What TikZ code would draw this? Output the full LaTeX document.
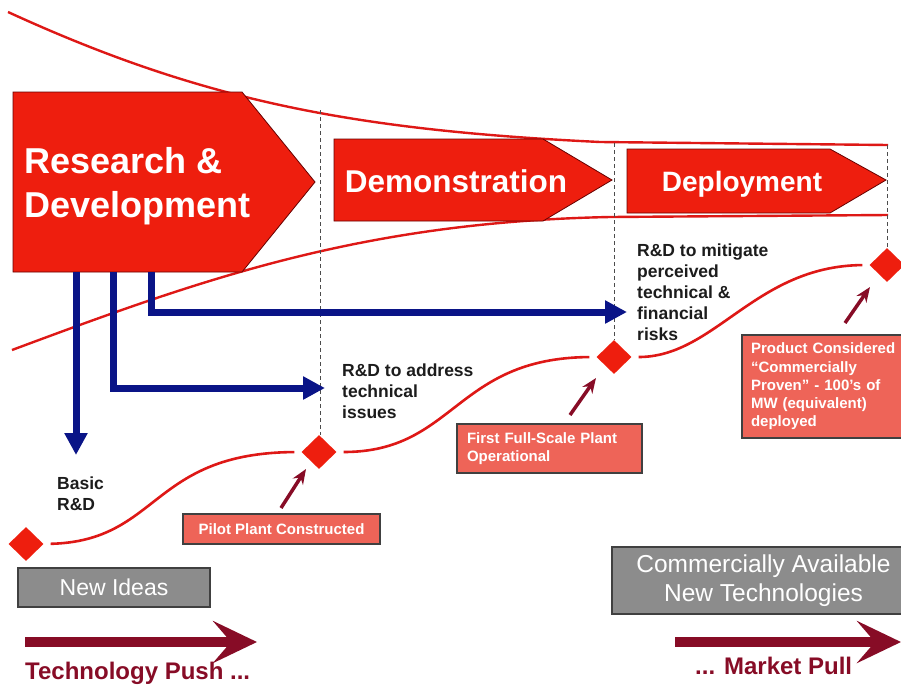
\documentclass[tikz,border=0pt]{standalone}
\usepackage{fontspec}
\setmainfont{Liberation Sans}
\usetikzlibrary{arrows.meta,shapes.geometric}
\definecolor{rdred}{RGB}{238,30,14}
\definecolor{curvered}{RGB}{222,24,22}
\definecolor{navy}{RGB}{10,20,135}
\definecolor{burg}{RGB}{135,12,38}
\definecolor{pinkbox}{RGB}{238,100,88}
\definecolor{graybox}{RGB}{140,140,140}
\definecolor{txtdark}{RGB}{28,28,28}
\begin{document}
\begin{tikzpicture}[x=1pt,y=-1pt,
  stage/.style={fill=rdred,draw=black!60!red,line width=0.8pt},
  stagetext/.style={text=white,inner sep=0pt},
  funnel/.style={draw=curvered,line width=2.4pt},
  sline/.style={draw=curvered,line width=2.6pt,shorten <=7pt,shorten >=7pt},
  mile/.style={diamond,fill=rdred,minimum width=35pt,minimum height=34pt,inner sep=0pt},
  guide/.style={draw=black!70,line width=0.9pt,dash pattern=on 4pt off 3pt},
  rdarrow/.style={draw=navy,line width=7pt,-{Triangle[length=22pt,width=22pt]}},
  ptr/.style={draw=burg,line width=3.5pt,-{Stealth[length=15pt,width=12pt]}},
  note/.style={text=txtdark,font=\bfseries\fontsize{17.5}{21}\selectfont,align=left,inner sep=0pt,anchor=north west},
  pinklabel/.style={fill=pinkbox,draw=black!75,line width=1.2pt,text=white,font=\bfseries\fontsize{15}{18.3}\selectfont,align=left,inner ysep=0pt},
  graylabel/.style={fill=graybox,draw=black!75,line width=1.2pt,text=white,align=center,inner sep=0pt},
  bigarrow/.style={draw=burg,line width=10pt,-{Stealth[length=44pt,width=42pt,inset=18pt]}},
  pushtext/.style={text=burg,font=\bfseries\fontsize{24}{28}\selectfont,inner sep=0pt,anchor=base west}
]
\useasboundingbox (0,0) rectangle (901,691);
\clip (0,0) rectangle (901,691);

% funnel
\draw[funnel] (8,12) .. controls (200,100) and (350,130) .. (600,142) -- (888,145);
\draw[funnel] (12,350) .. controls (200,280) and (360,222) .. (610,217) -- (888,215);

% stages
\draw[stage] (13,92) -- (242,92) -- (315,182) -- (242,272) -- (13,272) -- cycle;
\draw[stage] (334,139) -- (543,139) -- (612,180) -- (543,221) -- (334,221) -- cycle;
\draw[stage] (627,149) -- (830,149) -- (886,180) -- (830,213) -- (627,213) -- cycle;
\node[stagetext,anchor=north west,align=left,font=\bfseries\fontsize{36}{44}\selectfont] (rdt) at (24,147) {Research \&\\Development};
\node[stagetext,anchor=base,font=\bfseries\fontsize{31.5}{36}\selectfont] (demt) at (456,192) {Demonstration};
\node[stagetext,anchor=base,font=\bfseries\fontsize{28}{32}\selectfont] (dept) at (742,191) {Deployment};

% milestones
\node[mile] (d1) at (26,544) {};
\node[mile] (d2) at (319,452) {};
\node[mile] (d3) at (614,357) {};
\node[mile] (d4) at (887,265) {};

% guides
\coordinate (g1) at (320,110);
\coordinate (g2) at (614,143);
\coordinate (g3) at (887,145);
\draw[guide] (g1) -- (g1 |- d2.north);
\draw[guide] (g2) -- (d3.north);
\draw[guide] (g3) -- (d4.north);

% S-curves
\draw[sline] (d1.east) .. controls (160,541) and (150,453) .. (d2.west);
\draw[sline] (d2.east) .. controls (455,452) and (455,358) .. (d3.west);
\draw[sline] (d3.east) .. controls (715,357) and (755,266) .. (d4.west);

% blue arrows
\coordinate (rd1) at (76,272);
\coordinate (rd2) at (113,272);
\coordinate (rd3) at (151,272);
\coordinate (e1) at (76,455);
\coordinate (e2) at (325,388);
\coordinate (e3) at (627,312);
\draw[rdarrow] (rd1) -- (e1);
\draw[rdarrow] (rd2) |- (e2);
\draw[rdarrow] (rd3) |- (e3);

% notes
\node[note] (basic) at (57,477) {Basic\\R\&D};
\node[note] (addr) at (342,363.3) {R\&D to address\\technical\\issues};
\node[note] (mitig) at (637,243.3) {R\&D to mitigate\\perceived\\technical \&\\financial\\risks};

% pink labels
\node[pinklabel,minimum width=197pt,minimum height=30pt,align=center] (pilot) at (281.5,529) {Pilot Plant Constructed};
\node[pinklabel,minimum height=49pt,text width=165pt,inner xsep=10pt] (first) at (549.5,448.5) {First Full-Scale Plant\\Operational};
\node[pinklabel,minimum height=103pt,text width=155pt,inner xsep=9pt] (prod) at (828.5,386.5) {Product Considered\\“Commercially\\Proven” - 100’s of\\MW (equivalent)\\deployed};

% pointers
\coordinate (p1) at (281,508);
\coordinate (p2) at (570,415);
\coordinate (p3) at (845,323);
\draw[ptr] (p1) -- (306,469);
\draw[ptr] (p2) -- (596,378);
\draw[ptr] (p3) -- (870,287);

% gray boxes
\node[graylabel,minimum width=192pt,minimum height=39pt,font=\fontsize{23}{27}\selectfont] (ideas) at (114,587.5) {New Ideas};
\node[graylabel,minimum width=303pt,minimum height=67pt,font=\fontsize{24.5}{28.5}\selectfont] (avail) at (763.5,580.5) {Commercially Available\\New Technologies};

% push / pull
\coordinate (ps) at (25,642);
\coordinate (pe) at (257,642);
\coordinate (ms) at (675,642);
\coordinate (me) at (901,642);
\draw[bigarrow] (ps) -- (pe);
\draw[bigarrow] (ms) -- (me);
\node[pushtext] (push) at (25,679) {Technology Push ...};
\node[pushtext] (pull) at (695,674) {... Market Pull};
\end{tikzpicture}
\end{document}
